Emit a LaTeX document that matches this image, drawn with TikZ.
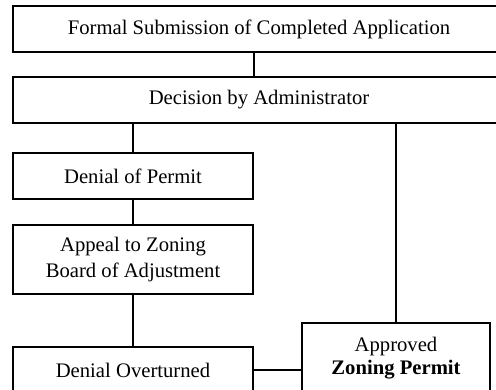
\documentclass[tikz,border=0pt]{standalone}
\usepackage{fontspec}
\setmainfont{Liberation Serif}
\usepackage{tikz}

\begin{document}
\begin{tikzpicture}[x=0.75pt,y=-0.75pt,-]
            \tikzstyle{box}=[rectangle,draw=black,line width=1.5pt,fill=white,inner sep=0pt,align=center,
                font=\fontsize{15.5}{19.5}\selectfont,minimum height=34.5pt]
            \tikzstyle{link}=[line width=1.5pt]
            \useasboundingbox (0,0) rectangle (496,389);

            \node[box, minimum width=369pt] (sub) at (259,29) {Formal Submission of Completed Application};
            \node[box, minimum width=369pt] (dec) at (259,100) {Decision by Administrator};
            \node[box, minimum width=180pt] (deny) at (133,176) {Denial of Permit};
            \node[box, minimum width=180pt, minimum height=51.75pt] (appeal) at (133,259.5) {Appeal to Zoning\\Board of Adjustment};
            \node[box, minimum width=180pt] (over) at (133,370) {Denial Overturned};
            \node[box, minimum width=141pt, minimum height=52.5pt] (appr) at (396,358) {Approved\\[-2.5pt]\textbf{Zoning Permit}};

            \draw[link] (sub.south -| deny.east) -- (dec.north -| deny.east);
            \draw[link] (deny.north |- dec.south) -- (deny.north);
            \draw[link] (appr.north |- dec.south) -- (appr.north);
            \foreach \from/\to in {deny/appeal, appeal/over}
                \draw[link] (\from.south) -- (\to.north);
            \draw[link] (over.east) -- (over.east -| appr.west);

        \end{tikzpicture}
\end{document}
